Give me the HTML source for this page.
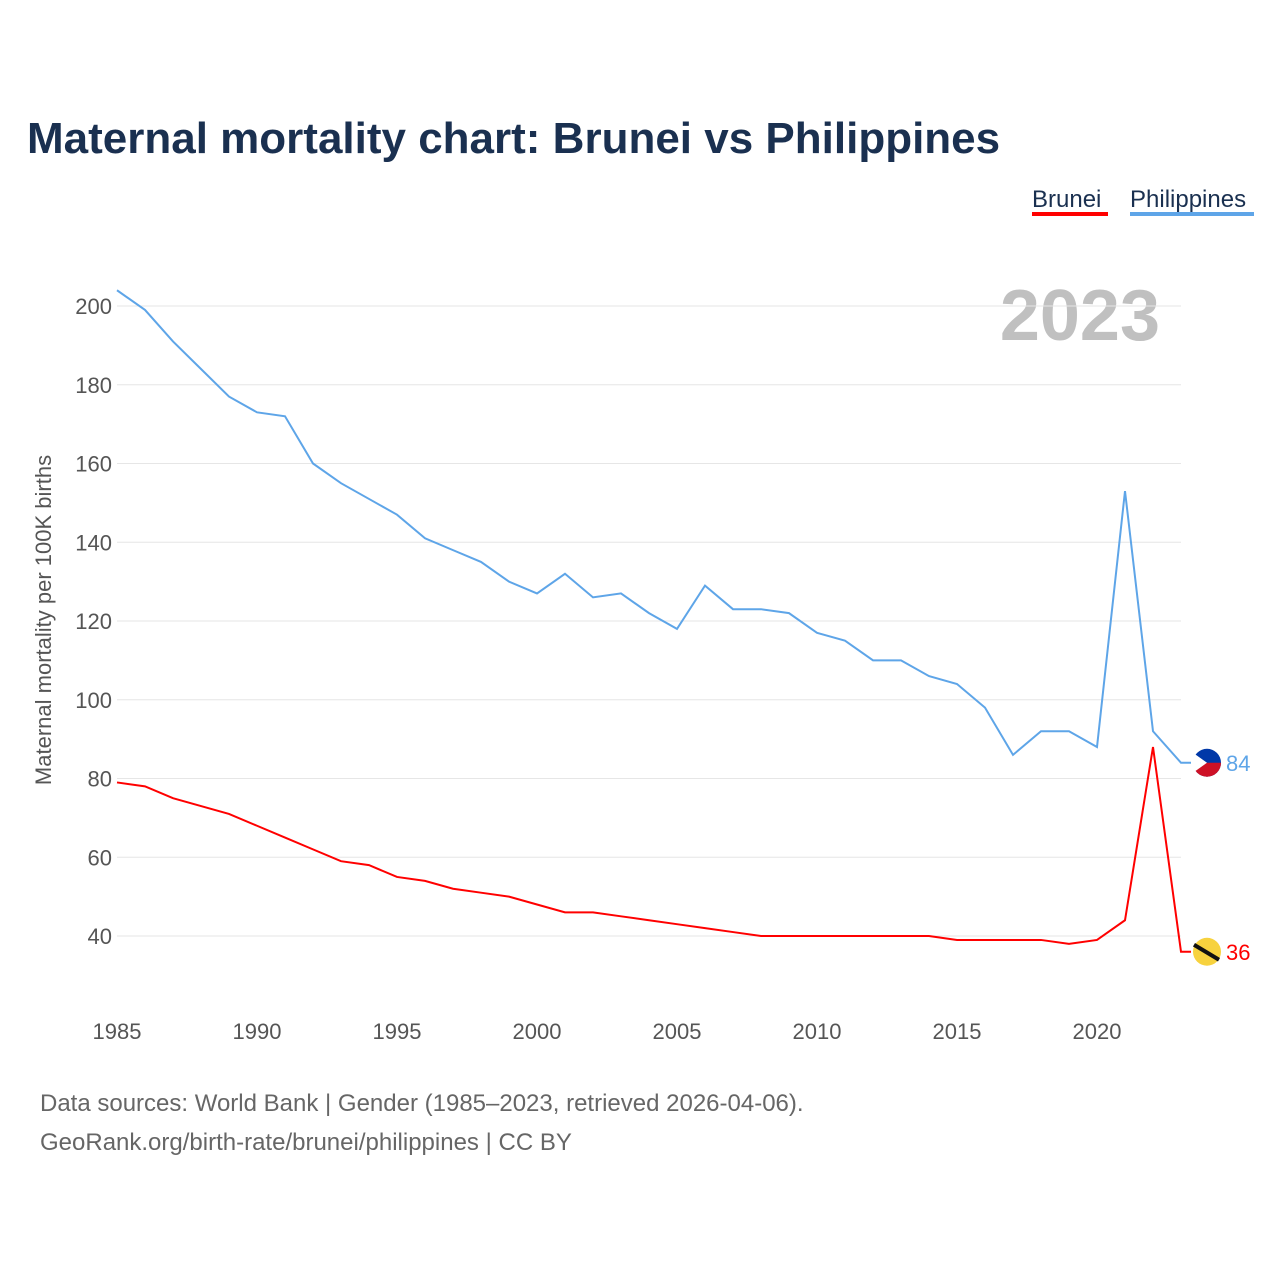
<!DOCTYPE html>
<html><head><meta charset="utf-8"><style>
body{margin:0;background:#fff;font-family:"Liberation Sans",sans-serif;}
#wrap{position:relative;width:1280px;height:1280px;overflow:hidden;}
</style></head><body>
<div id="wrap">
<svg id="chart" width="1280" height="1280" xmlns="http://www.w3.org/2000/svg">
<text x="27" y="153" font-size="44" font-weight="bold" fill="#1a3050">Maternal mortality chart: Brunei vs Philippines</text>
<g><text x="1032" y="207" font-size="24" fill="#1a3050">Brunei</text><rect x="1032" y="212" width="76" height="4" fill="#ff0000"/></g>
<g><text x="1130" y="207" font-size="24" fill="#1a3050">Philippines</text><rect x="1130" y="212" width="124" height="4" fill="#5ea5e8"/></g>
<text x="1160" y="340" font-size="72" font-weight="bold" fill="#c0c0c0" text-anchor="end">2023</text>
<text transform="translate(51,620) rotate(-90)" font-size="22" fill="#555" text-anchor="middle">Maternal mortality per 100K births</text>
<g id="grid"></g><g id="xt"></g><g id="lines"></g>
<text x="40" y="1111" font-size="24" fill="#666">Data sources: World Bank | Gender (1985–2023, retrieved 2026-04-06).</text>
<text x="40" y="1150" font-size="24" fill="#666">GeoRank.org/birth-rate/brunei/philippines | CC BY</text>
</svg></div>
<script>
const years=[1985,1986,1987,1988,1989,1990,1991,1992,1993,1994,1995,1996,1997,1998,1999,2000,2001,2002,2003,2004,2005,2006,2007,2008,2009,2010,2011,2012,2013,2014,2015,2016,2017,2018,2019,2020,2021,2022,2023];
const philippines=[204,199,191,184,177,173,172,160,155,151,147,141,138,135,130,127,132,126,127,122,118,129,123,123,122,117,115,110,110,106,104,98,86,92,92,88,153,92,84];
const brunei=[79,78,75,73,71,68,65,62,59,58,55,54,52,51,50,48,46,46,45,44,43,42,41,40,40,40,40,40,40,40,39,39,39,39,38,39,44,88,36];
const yTicks=[40,60,80,100,120,140,160,180,200];
const xTicks=[1985,1990,1995,2000,2005,2010,2015,2020];
const NS="http://www.w3.org/2000/svg";
const X=y=>117+(y-1985)*28;
const Y=v=>936-(v-40)*3.9375;
function mk(t,a,p){const e=document.createElementNS(NS,t);for(const k in a)e.setAttribute(k,a[k]);p.appendChild(e);return e;}
const grid=document.getElementById('grid'),xt=document.getElementById('xt'),lines=document.getElementById('lines');
yTicks.forEach(v=>{
 const l=mk('line',{x1:117,x2:1181,y1:Y(v),y2:Y(v),stroke:'#e6e6e6','stroke-width':1},grid);
 
 
 const t=mk('text',{x:112,y:Y(v)+8,'font-size':22,fill:'#555','text-anchor':'end'},grid);t.textContent=v;
 
 
});
xTicks.forEach(v=>{
 const t=mk('text',{x:X(v),y:1039,'font-size':22,fill:'#555','text-anchor':'middle'},xt);t.textContent=v;
 
 
});
function series(vals,color,name){
 let d=vals.map((v,i)=>(i?'L':'M')+X(years[i])+','+Y(v)).join(' ');
 const last=vals[vals.length-1];
 d+=' L'+(X(years[years.length-1])+10)+','+Y(last);
 const p=mk('path',{d:d,fill:'none',stroke:color,'stroke-width':2},lines);
 
 
 const c=mk('circle',{cx:1207,cy:Y(last),r:14,fill:name==='brunei'?'#f7d23e':'#0038a8'},lines);
 
 
 if(name==='philippines'){const h=mk('path',{d:`M1193,${Y(last)} L1221,${Y(last)} A14,14 0 0 1 1193,${Y(last)} Z`,fill:'#ce1126'},lines);
 const w=mk('path',{d:`M1193,${Y(last)-10} L1207,${Y(last)} L1193,${Y(last)+10} Z`,fill:'#fff'},lines);}
 else{const s=mk('line',{x1:1194,y1:Y(last)-7,x2:1219,y2:Y(last)+8,stroke:'#111','stroke-width':4},lines);}
 const t=mk('text',{x:1226,y:Y(last)+8,'font-size':22,fill:color},lines);t.textContent=last;
 
 
}
series(philippines,'#5ea5e8','philippines');
series(brunei,'#ff0000','brunei');
</script>
</body></html>
